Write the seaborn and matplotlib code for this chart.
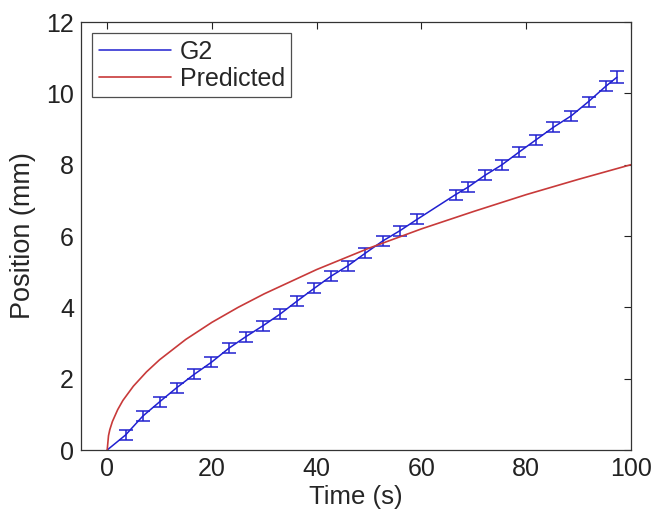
import matplotlib
matplotlib.use("Agg")
import matplotlib.pyplot as plt
import seaborn as sns
import pandas as pd

# G2 measured data (time s, position mm, error mm)
g2_time = [0.0, 3.5, 6.8, 10.0, 13.3, 16.6, 19.9, 23.2, 26.5, 29.8, 33.0, 36.2, 39.5,
           42.8, 46.0, 49.2, 52.6, 55.9, 59.2, 66.5, 68.9, 72.1, 75.3, 78.6, 81.8,
           85.2, 88.6, 91.9, 95.2, 97.3]
g2_pos = [0.0, 0.42, 0.95, 1.35, 1.75, 2.12, 2.46, 2.85, 3.18, 3.49, 3.81, 4.17, 4.53,
          4.88, 5.17, 5.51, 5.86, 6.15, 6.47, 7.16, 7.37, 7.70, 7.99, 8.35, 8.69,
          9.05, 9.37, 9.77, 10.20, 10.45]
g2_err = [0.0] + [0.14] * 28 + [0.17]

# Predicted curve
pred_time = [0, 0.25, 0.5, 1, 2, 3, 5, 7.5, 10, 15, 20, 25, 30, 40, 50, 60, 70, 80, 90, 100]
pred_pos = [0, 0.40, 0.57, 0.80, 1.13, 1.39, 1.79, 2.19, 2.53, 3.10, 3.58, 4.00, 4.38,
            5.06, 5.66, 6.20, 6.69, 7.16, 7.59, 8.00]

xticks = [0, 20, 40, 60, 80, 100]
yticks = [0, 2, 4, 6, 8, 10, 12]

sns.set_theme(style="white")
plt.rcParams['font.family'] = ['Liberation Sans', 'DejaVu Sans']

blue = '#2020d0'
red = '#c83a3a'

fig = plt.figure(figsize=(6.54, 5.13), dpi=100)
# axes: left 81px, right 631px, top 22px, bottom 450px
ax = fig.add_axes([81 / 654, 63 / 513, 550 / 654, 428 / 513])

g2 = pd.DataFrame({"t": g2_time, "y": g2_pos})
pr = pd.DataFrame({"t": pred_time, "y": pred_pos})

sns.lineplot(data=g2, x="t", y="y", ax=ax, color=blue, lw=1.1, label="G2", sort=False)
ax.errorbar(g2_time[1:], g2_pos[1:], yerr=g2_err[1:], fmt='none', ecolor=blue,
            elinewidth=1.1, capsize=5, capthick=1.1)
sns.lineplot(data=pr, x="t", y="y", ax=ax, color=red, lw=1.2, label="Predicted", sort=False)

ax.set_xlim(-5, 100)
ax.set_ylim(0, 12)
ax.set_xticks(xticks)
ax.set_yticks(yticks)
ax.tick_params(direction='in', length=5, width=0.8, top=True, right=True,
               labelsize=18, colors='#222222', pad=5)
for s in ax.spines.values():
    s.set_visible(True)
    s.set_color('#333333')
    s.set_linewidth(0.9)

ax.set_xlabel("Time (s)", fontsize=18.5, labelpad=3)
ax.set_ylabel("Position (mm)", fontsize=19.5, labelpad=7)

leg = ax.legend(loc='upper left', fontsize=18, frameon=True, fancybox=False,
                edgecolor='#222222', handlelength=2.9, borderpad=0.25,
                labelspacing=0.12, handletextpad=0.35, borderaxespad=0.45)
leg.get_frame().set_linewidth(0.9)

fig.savefig("out.png", dpi=100)
